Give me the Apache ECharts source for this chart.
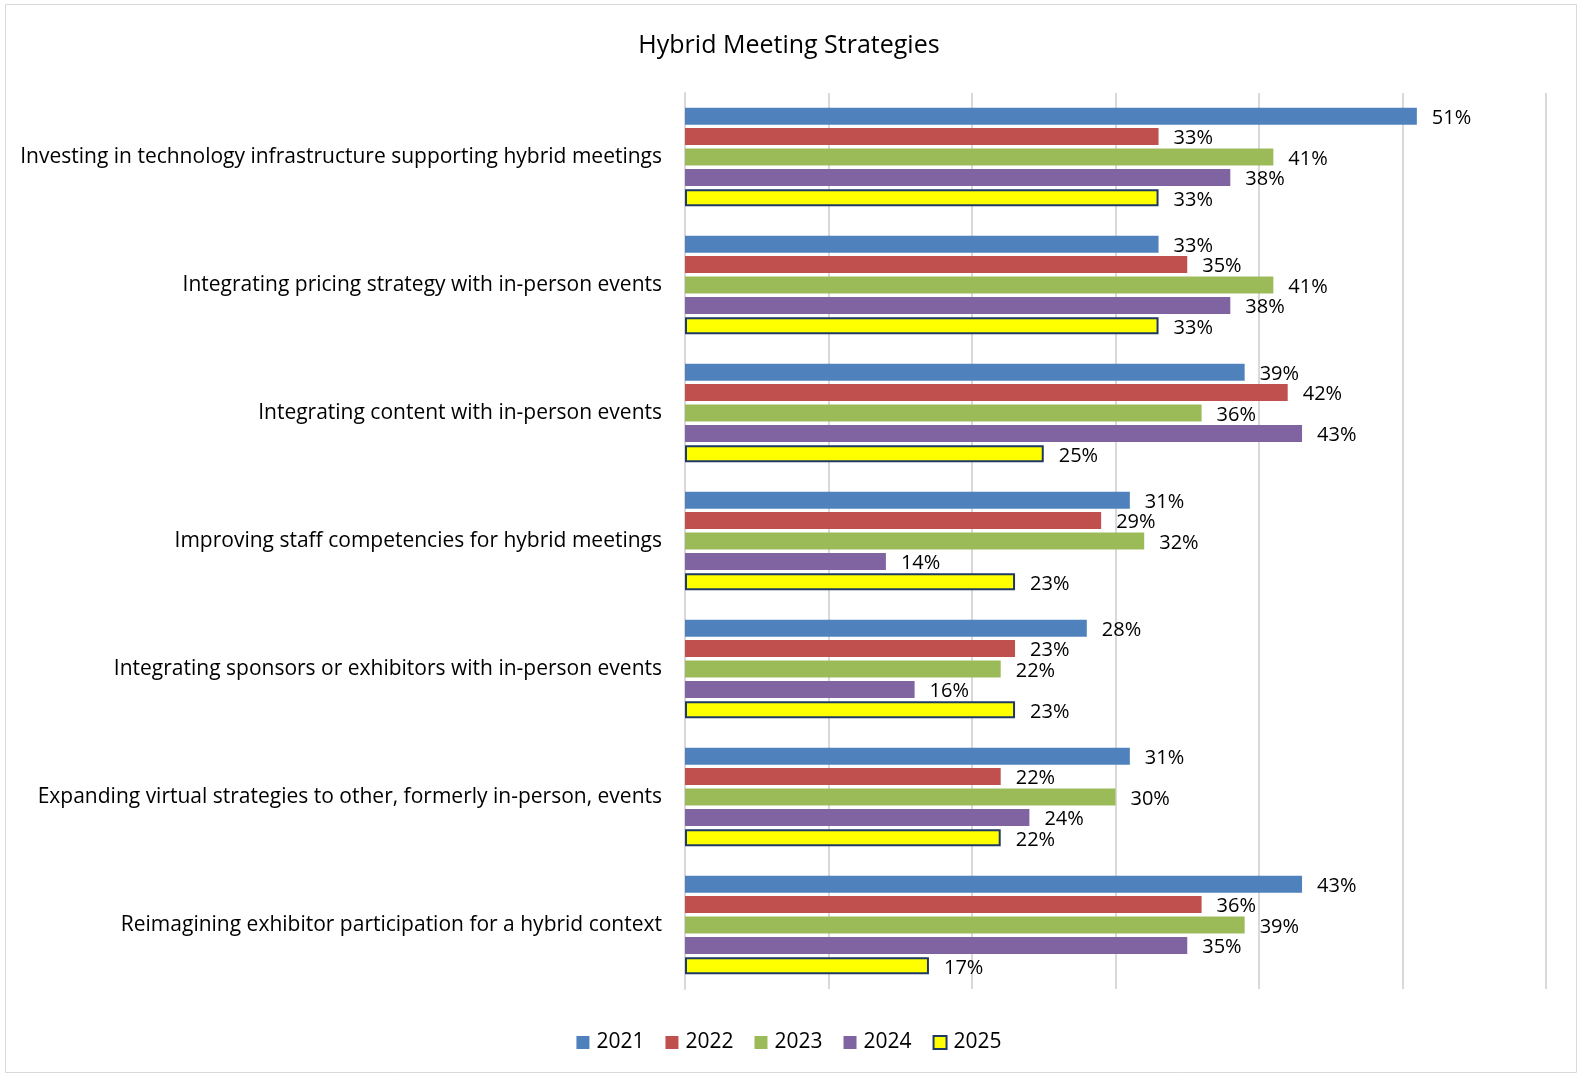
<!DOCTYPE html>
<html><head><meta charset="utf-8">
<script src="https://cdn.jsdelivr.net/npm/echarts@6/dist/echarts.min.js"></script>
<style>html,body{margin:0;padding:0;background:#fff}#c{width:1578px;height:1074px}</style>
</head><body><div id="c"></div>
<script>
const categories = [
  "Investing in technology infrastructure supporting hybrid meetings",
  "Integrating pricing strategy with in-person events",
  "Integrating content with in-person events",
  "Improving staff competencies for hybrid meetings",
  "Integrating sponsors or exhibitors with in-person events",
  "Expanding virtual strategies to other, formerly in-person, events",
  "Reimagining exhibitor participation for a hybrid context"
];
const years = ["2021", "2022", "2023", "2024", "2025"];
const v2021 = [51, 33, 39, 31, 28, 31, 43];
const v2022 = [33, 35, 42, 29, 23, 22, 36];
const v2023 = [41, 41, 36, 32, 22, 30, 39];
const v2024 = [38, 38, 43, 14, 16, 24, 35];
const v2025 = [33, 33, 25, 23, 23, 22, 17];
const seriesValues = [v2021, v2022, v2023, v2024, v2025];
const colors = ["#4f81bd", "#c0504d", "#9bbb59", "#8064a2", "#ffff00"];
const FONT = "'Open Sans', 'Noto Sans', sans-serif";

const chart = echarts.init(document.getElementById('c'));
chart.setOption({
  animation: false,
  title: {text: "Hybrid Meeting Strategies", left: 'center', top: 28,
    textStyle: {fontFamily: FONT, fontWeight: 'normal', fontSize: 25, color: '#000'}},
  graphic: [{type: 'rect', shape: {x: 5.5, y: 4.5, width: 1571, height: 1068},
    style: {fill: 'none', stroke: '#d9d9d9', lineWidth: 1}}],
  legend: {bottom: 16, left: 'center', itemWidth: 13, itemHeight: 13, itemGap: 21, icon: 'rect',
    textStyle: {fontFamily: FONT, fontSize: 21, color: '#000', padding: [0, 0, 0, 2]},
    data: years},
  grid: {left: 685, right: 32, top: 93, bottom: 85, containLabel: false},
  xAxis: {type: 'value', min: 0, max: 60, interval: 10,
    axisLabel: {show: false}, axisLine: {show: false}, axisTick: {show: false},
    splitLine: {lineStyle: {color: '#d9d9d9', width: 2}}},
  yAxis: {type: 'category', data: categories, inverse: true,
    axisLine: {lineStyle: {color: '#d9d9d9', width: 2}}, axisTick: {show: false},
    axisLabel: {fontFamily: FONT, fontSize: 21, color: '#000', margin: 23}},
  series: seriesValues.map((vals, i) => ({
    name: years[i], type: 'bar', data: vals, barWidth: 17, barGap: '20%',
    itemStyle: i === 4 ? {color: colors[i], borderColor: '#1f3864', borderWidth: 2} : {color: colors[i]},
    label: {show: true, position: 'right', distance: 15, offset: [0, 2], formatter: '{c}%',
      fontFamily: FONT, fontSize: 20, color: '#000'}
  }))
});
</script></body></html>
